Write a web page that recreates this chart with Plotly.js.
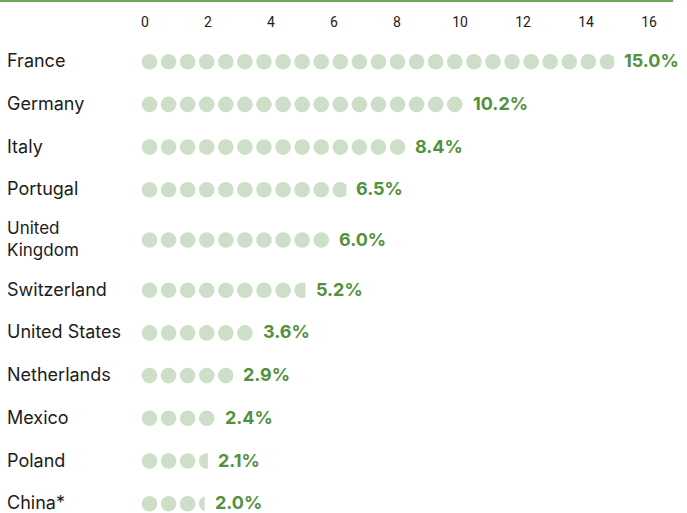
<!DOCTYPE html>
<html><head><meta charset="utf-8">
<script src="https://cdn.plot.ly/plotly-3.0.1.min.js"></script>
<style>html,body{margin:0;padding:0;background:#fff}#chart{width:687px;height:513px}</style>
</head><body><div id="chart"></div>
<script>
// ---- data ----
const countries = ["France","Germany","Italy","Portugal","United<br>Kingdom","Switzerland","United States","Netherlands","Mexico","Poland","China*"];
const shares = [15.0, 10.2, 8.4, 6.5, 6.0, 5.2, 3.6, 2.9, 2.4, 2.1, 2.0];
const shareLabels = shares.map(v => v.toFixed(1) + "%");
const xTickVals = [0, 2, 4, 6, 8, 10, 12, 14, 16];

// ---- style / geometry constants ----
const W = 687, H = 513, TOP = 31;
const PX_PER_UNIT = 31.5, ZERO_PX = 145;
const DOT_PX = 15.6, PITCH_PX = 19.08, START_PX = 141.7;
const FIRST_ROW = 61.7, ROW_GAP = 42.7, EXTRA_LINE = 15;
const DOT_COLOR = "#cddfc9", LABEL_GREEN = "#52913e", LINE_GREEN = "#6aa95a", TEXT = "#1c1c1c";

const u = px => px / PX_PER_UNIT;                 // px length -> axis units
const s = u(START_PX - ZERO_PX);                   // dot strip start (axis units)
const p = u(PITCH_PX), d = u(DOT_PX);

// row positions
const nLines = countries.map(c => c.split("<br>").length);
const rowY = [];
let cur = FIRST_ROW;
countries.forEach((c, i) => {
  if (i > 0) cur += ROW_GAP + EXTRA_LINE * ((nLines[i - 1] - 1) + (nLines[i] - 1)) / 2;
  rowY.push(cur);
});

const dotX = [], dotY = [], shapes = [], annotations = [];
shares.forEach((v, i) => {
  const clip = s + v;                              // end of the dotted bar
  let j = 0, end = s;
  while (s + j * p < clip - 0.01) {
    const left = s + j * p;
    dotX.push(left + d / 2); dotY.push(rowY[i]);
    if (left + d > clip) {
      shapes.push({type: "rect", xref: "x", yref: "y", layer: "above",
        x0: clip, x1: left + d + 0.05, y0: rowY[i] - 9.5, y1: rowY[i] + 9.5,
        fillcolor: "#ffffff", line: {width: 0}});
      end = clip;
    } else end = left + d;
    j++;
  }
  annotations.push({xref: "x", yref: "y", x: end, y: rowY[i], xanchor: "left", yanchor: "middle",
    xshift: 8, yshift: 1, text: shareLabels[i], showarrow: false,
    font: {family: "Inter, 'Open Sans', sans-serif", size: 18, color: LABEL_GREEN, weight: 700}});
  annotations.push({xref: "paper", yref: "y", x: 0, y: rowY[i], xanchor: "left", yanchor: "middle",
    xshift: 5, yshift: 1, text: countries[i], showarrow: false, align: "left",
    font: {family: "Inter, 'Open Sans', sans-serif", size: nLines[i] > 1 ? 17 : 18, color: TEXT}});
});

shapes.push({type: "line", xref: "paper", yref: "paper", x0: 0, x1: 673 / W,
  y0: (H - 1) / (H - TOP), y1: (H - 1) / (H - TOP), line: {color: LINE_GREEN, width: 2}});

const trace = {type: "scatter", mode: "markers", x: dotX, y: dotY, hoverinfo: "skip",
  marker: {symbol: "circle", size: DOT_PX, color: DOT_COLOR, line: {width: 0}}, cliponaxis: false};

const layout = {
  width: W, height: H, margin: {l: 0, r: 0, t: TOP, b: 0},
  paper_bgcolor: "#fff", plot_bgcolor: "#fff", showlegend: false,
  xaxis: {range: [u(-ZERO_PX), u(W - ZERO_PX)], side: "top", tickvals: xTickVals,
    showgrid: false, zeroline: false, showline: false, ticks: "",
    tickfont: {family: "Roboto, sans-serif", size: 14, color: TEXT}, fixedrange: true},
  yaxis: {range: [H, TOP], visible: false, fixedrange: true},
  shapes: shapes, annotations: annotations
};
Plotly.newPlot("chart", [trace], layout, {staticPlot: true, displayModeBar: false});
</script></body></html>
